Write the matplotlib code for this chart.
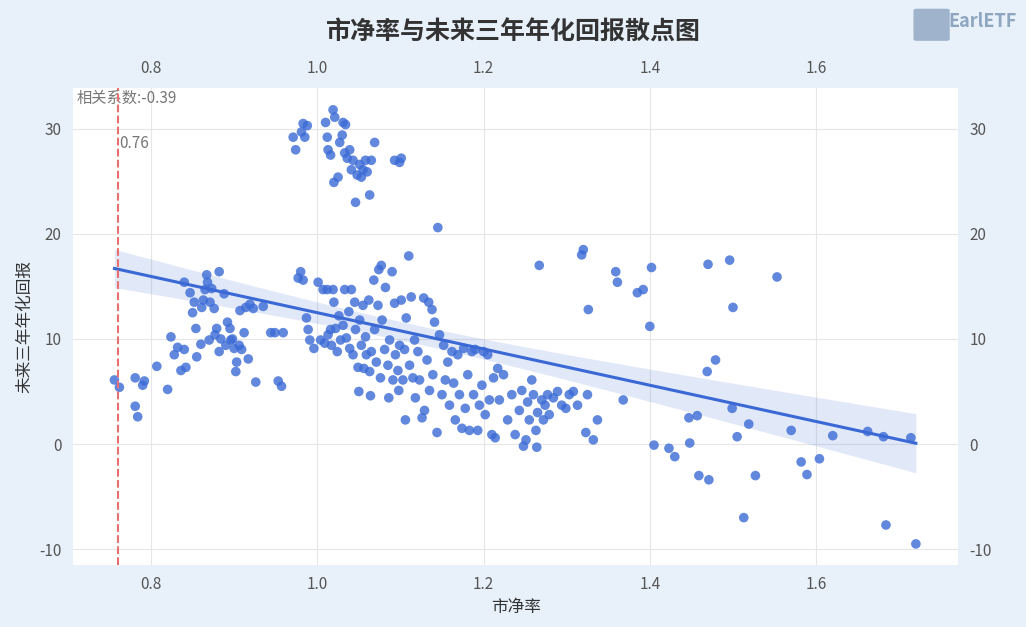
import numpy as np
import matplotlib
matplotlib.use("Agg")
import matplotlib.pyplot as plt
from matplotlib.patches import FancyBboxPatch

plt.rcParams['font.family'] = ['Noto Sans CJK SC', 'DejaVu Sans']
plt.rcParams['axes.unicode_minus'] = False

pb = [0.756,0.762,0.781,0.781,0.784,0.79,0.792,0.807,0.82,0.824,0.828,0.832,0.836,0.84,0.84,0.842,0.847,0.85,0.852,0.854,0.855,0.86,0.861,0.863,0.865,0.867,0.868,0.87,0.871,0.873,0.876,0.877,0.879,0.882,0.882,0.884,0.888,0.89,0.892,0.895,0.896,0.898,0.9,0.902,0.903,0.906,0.907,0.909,0.912,0.914,0.917,0.919,0.923,0.926,0.935,0.944,0.949,0.953,0.957,0.959,
0.977,0.98,0.983,0.987,0.989,0.991,0.996,1.001,1.004,1.007,1.009,1.012,1.013,1.016,1.017,1.019,1.02,1.022,1.024,1.026,1.028,1.031,1.033,1.035,1.038,1.039,1.041,1.043,1.045,1.046,1.049,1.05,1.051,1.053,1.055,1.056,1.058,1.059,1.062,1.063,1.064,1.065,1.068,1.069,1.071,1.073,1.074,1.076,1.077,1.078,1.081,1.082,1.085,1.086,1.087,1.09,1.091,1.093,1.094,1.097,1.098,1.099,1.101,1.103,1.105,1.106,1.107,1.11,1.111,1.113,1.115,1.117,1.118,1.121,1.123,1.126,1.128,1.129,1.132,1.134,1.135,1.138,1.139,1.141,1.144,1.145,1.147,1.15,1.152,1.154,1.157,1.159,1.162,1.164,1.166,1.169,1.171,1.174,1.176,1.178,1.181,1.183,1.186,1.188,1.19,1.193,1.195,1.198,1.2,1.202,1.205,1.207,1.21,1.212,1.214,1.217,1.219,1.224,1.229,1.234,1.238,1.243,1.246,1.248,1.251,1.253,1.255,1.258,1.26,1.263,1.264,1.265,1.267,1.27,1.272,1.274,1.277,1.279,1.284,1.289,1.294,1.299,1.303,1.308,1.313,1.318,1.32,1.323,1.326,1.332,1.325,
0.971,0.974,0.981,0.983,0.988,0.985,1.01,1.012,1.013,1.016,1.019,1.02,1.021,1.025,1.027,1.03,1.031,1.033,1.034,1.036,1.039,1.041,1.043,1.046,1.048,1.051,1.053,1.055,1.058,1.06,1.063,1.065,1.069,1.093,1.099,1.101,
1.337,1.368,1.359,1.361,1.385,1.392,1.4,1.402,1.405,1.423,1.43,1.447,1.448,1.457,1.459,1.469,1.471,1.47,1.479,1.496,1.499,1.5,1.505,1.513,1.519,1.527,1.553,1.57,1.582,1.589,1.604,1.62,1.662,1.681,1.684,1.714,1.72]
ret = [6.1,5.4,6.3,3.6,2.6,5.6,6.0,7.4,5.2,10.2,8.5,9.2,7.0,15.4,9.0,7.3,14.4,12.5,13.5,11.0,8.3,9.5,13.0,13.7,14.7,16.1,15.4,9.9,13.5,14.8,12.9,10.4,11.0,16.4,8.8,10.0,14.3,9.4,11.6,11.0,9.9,10.0,9.1,6.9,7.8,9.4,12.7,9.0,10.6,13.0,8.1,13.3,12.9,5.9,13.1,10.6,10.6,6.0,5.5,10.6,
15.8,16.4,15.6,12.0,10.9,9.9,9.1,15.4,9.9,14.7,9.6,14.7,10.4,10.9,9.4,14.7,13.5,11.0,8.8,12.2,9.9,11.3,14.7,10.1,12.6,9.1,14.7,8.5,13.5,10.9,7.3,5.0,11.8,9.4,13.2,7.2,10.2,8.5,13.7,6.9,4.6,8.8,15.6,10.9,7.8,13.2,16.6,6.3,17.0,11.8,9.0,14.9,7.5,4.4,9.9,16.4,6.1,13.4,8.5,7.0,5.1,9.4,13.7,6.1,9.0,2.3,12.0,17.9,7.5,14.0,6.3,9.9,4.4,8.8,6.1,2.5,13.9,3.2,8.0,13.5,5.1,12.8,6.6,11.6,1.1,20.6,10.4,4.7,9.4,6.1,7.8,3.7,8.8,5.8,2.3,8.5,4.7,1.5,9.1,3.4,6.6,1.3,8.8,4.7,9.0,1.3,3.7,5.6,8.8,2.8,8.5,4.2,0.9,6.3,0.6,7.2,4.2,6.6,2.3,4.7,0.9,3.2,5.1,-0.2,0.4,4.0,2.3,6.1,4.7,1.3,-0.3,3.0,17.0,4.2,2.3,3.7,4.7,2.8,4.4,5.0,3.7,3.4,4.7,5.0,3.7,18.0,18.5,1.1,12.8,0.4,4.7,
29.2,28.0,29.7,30.5,30.3,29.2,30.6,29.2,28.0,27.5,31.8,24.9,31.1,25.4,28.7,29.4,30.6,27.7,30.4,27.2,28.0,26.1,27.0,23.0,25.6,26.6,25.4,26.1,27.0,25.9,23.7,27.0,28.7,27.0,26.8,27.2,
2.3,4.2,16.4,15.4,14.4,14.7,11.2,16.8,-0.1,-0.4,-1.2,2.5,0.1,2.7,-3.0,6.9,-3.4,17.1,8.0,17.5,3.4,13.0,0.7,-7.0,1.9,-3.0,15.9,1.3,-1.7,-2.9,-1.4,0.8,1.2,0.7,-7.7,0.6,-9.5]
x_ticks = [0.8, 1.0, 1.2, 1.4, 1.6]
y_ticks = [-10, 0, 10, 20, 30]
threshold = 0.76
corr_label = "相关系数:-0.39"

x = np.array(pb); y = np.array(ret)
bg = '#e8f1fa'
fig = plt.figure(figsize=(10.26, 6.27), dpi=100, facecolor=bg)
ax = fig.add_axes([0.071, 0.099, 0.863, 0.761])
ax.set_facecolor('white')
blue = '#3a68d4'
ax.scatter(x, y, s=48, color='#3b6bd6', alpha=0.8, edgecolors='none', zorder=3)

# regression + 95% CI
b, a = np.polyfit(x, y, 1)
xs = np.linspace(x.min(), x.max(), 100)
ys = a + b*xs
n = len(x); resid = y - (a + b*x)
s = np.sqrt(np.sum(resid**2)/(n-2))
se = s*np.sqrt(1/n + (xs-x.mean())**2/np.sum((x-x.mean())**2))
ax.fill_between(xs, ys-1.97*se, ys+1.97*se, color='#3a68d4', alpha=0.15, lw=0, zorder=2)
ax.plot(xs, ys, color=blue, lw=2.2, zorder=4)

ax.axvline(threshold, color='#e87070', ls='--', lw=1.5, zorder=5)
ax.text(0.711, 33.7, corr_label, fontsize=11, color='#777777', va='top')
ax.text(threshold+0.002, 29.4, f"{threshold}", fontsize=11, color='#777777', va='top')

ax.set_xlim(0.706, 1.771); ax.set_ylim(-11.5, 33.9)
ax.set_xticks(x_ticks); ax.set_yticks(y_ticks)
ax.set_xticklabels([f"{v:.1f}" for v in x_ticks])
ax.grid(True, color='#e6e6e6', lw=0.8, zorder=0)
ax.set_axisbelow(True)
for sp in ax.spines.values(): sp.set_visible(False)
ax.tick_params(length=0, labelsize=11, labelcolor='#555555', top=True, labeltop=True, right=True, labelright=True, pad=8)
ax.set_xlabel('市净率', fontsize=12, color='#333333', labelpad=4)
ax.set_ylabel('未来三年年化回报', fontsize=12, color='#333333', labelpad=4)
fig.text(0.5, 0.948, '市净率与未来三年年化回报散点图', ha='center', va='center', fontsize=18, fontweight='bold', color='#333333')
# logo
fig.patches.append(FancyBboxPatch((0.893, 0.938), 0.03, 0.045, boxstyle='round,pad=0.002', transform=fig.transFigure, color='#9fb4cc'))
fig.text(0.924, 0.965, 'EarlETF', fontsize=13, color='#8fa6c0', va='center', fontweight='bold')
fig.savefig('out.png', dpi=100, facecolor=bg)
